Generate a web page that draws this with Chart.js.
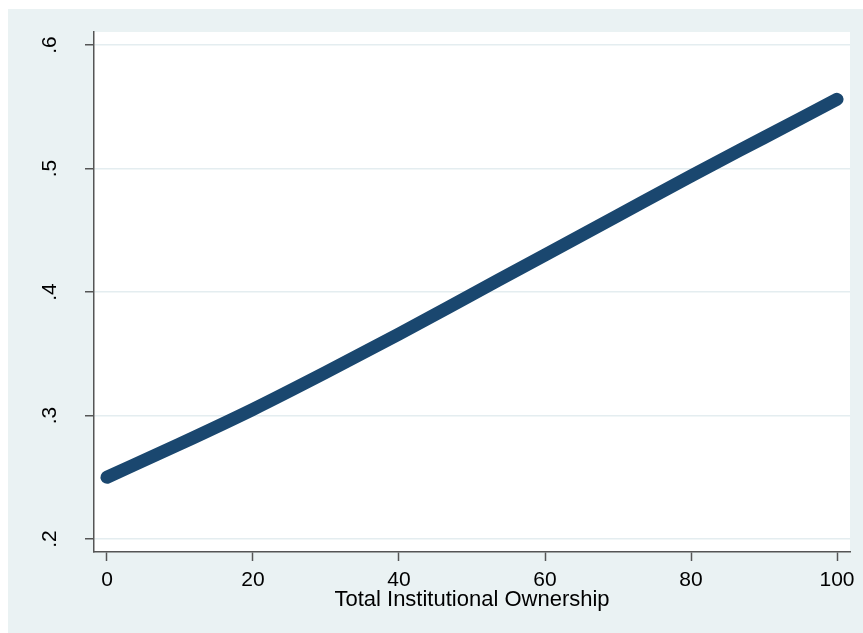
<!DOCTYPE html>
<html>
<head>
<meta charset="utf-8">
<script src="https://cdn.jsdelivr.net/npm/chart.js@4/dist/chart.umd.min.js"></script>
<style>
  html, body { margin: 0; padding: 0; background: #ffffff; }
  #wrap { width: 863px; height: 633px; position: relative; }
</style>
</head>
<body>
<div id="wrap"><canvas id="chart" width="863" height="633"></canvas></div>
<script>
// Predicted probability against total institutional ownership (%)
const ownership = [0, 10, 20, 30, 40, 50, 60, 70, 80, 90, 100];
const predicted = [0.250, 0.277, 0.305, 0.335, 0.366, 0.398, 0.430, 0.462, 0.494, 0.525, 0.556];

// Axis ticks and labels
const xTicks = [0, 20, 40, 60, 80, 100];
const yTicks = [0.2, 0.3, 0.4, 0.5, 0.6];
const xTitle = 'Total Institutional Ownership';

const FONT = '"Liberation Sans", Arial, Helvetica, sans-serif';
const NAVY = '#1A476F';
const REGION = '#EAF2F3';

const points = ownership.map((x, i) => ({ x: x, y: predicted[i] }));

const yLabel = v => v.toFixed(1).replace(/^0/, '');

// Graph region, plot region and rotated y tick labels
const stataFrame = {
  id: 'stataFrame',
  beforeDraw(chart) {
    const { ctx, chartArea: a } = chart;
    ctx.save();
    ctx.fillStyle = REGION;
    ctx.fillRect(8, 9, chart.width - 8, chart.height - 9);
    ctx.fillStyle = '#ffffff';
    ctx.fillRect(a.left, a.top, a.right - a.left, a.bottom - a.top);
    ctx.restore();
  },
  afterDraw(chart) {
    const { ctx } = chart;
    const ys = chart.scales.y;
    ctx.save();
    ctx.fillStyle = '#000000';
    ctx.font = '21px ' + FONT;
    ctx.textAlign = 'center';
    ctx.textBaseline = 'alphabetic';
    ys.ticks.forEach(t => {
      const py = ys.getPixelForValue(t.value);
      ctx.save();
      ctx.translate(56, py);
      ctx.rotate(-Math.PI / 2);
      ctx.fillText(yLabel(t.value), 0, 0);
      ctx.restore();
    });
    ctx.restore();
  }
};

new Chart(document.getElementById('chart'), {
  type: 'line',
  data: {
    datasets: [{
      data: points,
      borderColor: NAVY,
      backgroundColor: NAVY,
      borderWidth: 13,
      borderCapStyle: 'round',
      borderJoinStyle: 'round',
      pointRadius: 0,
      cubicInterpolationMode: 'monotone',
      fill: false
    }]
  },
  options: {
    responsive: false,
    animation: false,
    events: [],
    layout: { padding: { top: 32, right: 13, left: 0, bottom: 0 } },
    plugins: { legend: { display: false }, tooltip: { enabled: false } },
    scales: {
      x: {
        type: 'linear',
        min: -1.78,
        max: 101.78,
        afterBuildTicks: s => { s.ticks = xTicks.map(v => ({ value: v })); },
        afterFit: s => { s.height = 81; },
        grid: {
          drawOnChartArea: false,
          drawTicks: true,
          tickLength: 9,
          tickColor: '#555555',
          tickWidth: 1.5
        },
        border: { display: true, color: '#555555', width: 1.5 },
        ticks: {
          color: '#000000',
          font: { family: FONT, size: 21 },
          padding: 7,
          maxRotation: 0,
          autoSkip: false,
          callback: v => String(v)
        },
        title: {
          display: true,
          text: xTitle,
          color: '#000000',
          font: { family: FONT, size: 22 },
          padding: { top: 0, bottom: 20 }
        }
      },
      y: {
        type: 'linear',
        min: 0.18947,
        max: 0.61053,
        afterBuildTicks: s => { s.ticks = yTicks.map(v => ({ value: v })); },
        afterFit: s => { s.width = 94; },
        grid: {
          color: '#E4EDF0',
          lineWidth: 1.5,
          drawTicks: true,
          tickLength: 9,
          tickColor: '#555555',
          tickWidth: 1.5
        },
        border: { display: true, color: '#555555', width: 1.5 },
        ticks: { display: false }
      }
    }
  },
  plugins: [stataFrame]
});
</script>
</body>
</html>
